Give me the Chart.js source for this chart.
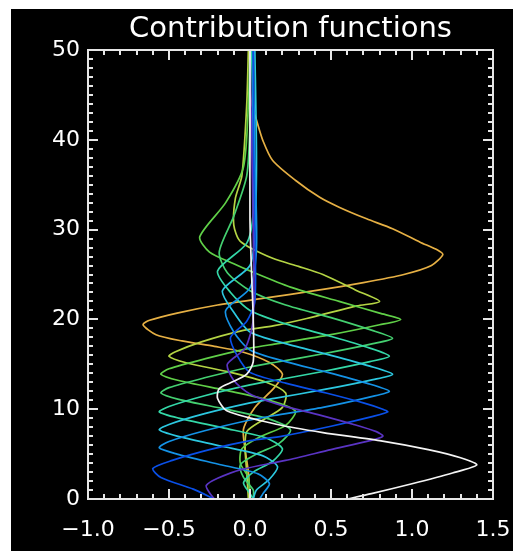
<!DOCTYPE html>
<html>
<head>
<meta charset="utf-8">
<script src="https://cdn.jsdelivr.net/npm/chart.js@4/dist/chart.umd.min.js"></script>
<style>
  html, body { margin: 0; padding: 0; background: #ffffff; }
  #wrap { position: absolute; left: 11px; top: 9px; width: 502px; height: 542px; background: #000000; }
  canvas { display: block; }
</style>
</head>
<body>
<div id="wrap"><canvas id="c" width="502" height="542"></canvas></div>
<script>
// ---- data (x = contribution, y = height) ----
const chartTitle = "Contribution functions";
const xTickLabels = ["−1.0", "−0.5", "0.0", "0.5", "1.0", "1.5"];
const yTickLabels = ["0", "10", "20", "30", "40", "50"];

const violet = [[0.00,50],[0.01,40],[0.02,30],[0.02,20],[-0.03,16.8],[-0.14,15.0],[-0.10,13.2],[0.00,11.7],[0.20,10.4],[0.42,9.4],[0.64,8.3],[0.78,7.5],[0.82,7.0],[0.74,6.5],[0.50,5.5],[0.22,4.3],[-0.05,3.3],[-0.20,2.3],[-0.27,1.5],[-0.25,0.7],[-0.22,0]];
const blue = [[0.02,50],[0.02,40],[0.03,30],[0.03,22],[-0.02,19.8],[-0.12,18.0],[-0.08,16.0],[0.00,14.1],[0.22,12.9],[0.47,11.8],[0.70,10.7],[0.82,10.0],[0.85,9.7],[0.76,9.2],[0.50,8.1],[0.20,7.0],[0.00,6.5],[-0.25,5.5],[-0.48,4.3],[-0.60,3.4],[-0.55,2.4],[-0.35,1.1],[-0.22,0]];
const azure = [[0.02,50],[0.03,38],[0.04,28],[0.00,23.5],[-0.15,21.0],[-0.10,18.6],[0.00,16.6],[0.22,15.3],[0.48,14.1],[0.72,12.9],[0.86,12.0],[0.75,11.4],[0.45,10.2],[0.15,9.3],[0.00,8.8],[-0.28,7.6],[-0.50,6.4],[-0.56,5.7],[-0.45,5.0],[-0.20,3.9],[0.05,2.8],[0.12,1.7],[0.08,0.6],[0.06,0]];
const cyan = [[0.03,50],[0.04,38],[0.03,30],[0.00,26.0],[-0.17,23.2],[-0.10,20.8],[0.00,18.6],[0.22,17.3],[0.50,16.0],[0.74,14.8],[0.88,13.9],[0.76,13.3],[0.46,12.2],[0.15,11.2],[0.00,10.7],[-0.28,9.5],[-0.50,8.3],[-0.56,7.7],[-0.45,7.0],[-0.18,5.9],[0.08,4.8],[0.17,3.6],[0.12,2.2],[0.04,1.0],[0.02,0]];
const teal = [[0.01,50],[0.02,40],[0.02,32],[-0.02,28.5],[-0.20,25.4],[-0.12,23.0],[0.00,21.0],[0.22,19.5],[0.50,18.1],[0.74,16.8],[0.86,15.9],[0.74,15.3],[0.45,14.2],[0.15,13.2],[0.00,12.7],[-0.28,11.5],[-0.50,10.3],[-0.56,9.7],[-0.44,9.0],[-0.16,7.9],[0.10,6.8],[0.20,5.6],[0.14,4.2],[0.02,3.0],[-0.04,1.8],[0.00,0.6],[0.02,0]];
const green = [[0.00,50],[0.00,42],[-0.02,36],[-0.10,31.5],[-0.19,27.5],[-0.14,25.2],[0.00,23.2],[0.22,21.6],[0.50,20.2],[0.75,18.8],[0.88,17.9],[0.76,17.3],[0.46,16.2],[0.15,15.2],[0.00,14.7],[-0.28,13.5],[-0.50,12.4],[-0.55,11.8],[-0.44,11.1],[-0.15,10.0],[0.12,8.9],[0.25,7.7],[0.18,6.2],[0.04,5.0],[-0.06,3.8],[-0.04,2.4],[0.02,1.0],[0.02,0]];
const green2 = [[0.00,50],[-0.01,44],[-0.04,37],[-0.15,33],[-0.31,29.2],[-0.25,27.5],[-0.10,26.2],[0.00,25.4],[0.25,23.6],[0.55,22.0],[0.80,20.7],[0.93,20.0],[0.80,19.4],[0.50,18.3],[0.17,17.3],[0.00,16.8],[-0.28,15.6],[-0.50,14.5],[-0.55,13.9],[-0.44,13.2],[-0.15,12.1],[0.12,11.0],[0.28,9.8],[0.22,8.2],[0.06,6.9],[-0.05,5.6],[-0.06,4.0],[-0.01,2.4],[0.00,0]];
const yellowGreen = [[-0.01,50],[-0.02,44],[-0.05,36],[-0.09,33.5],[-0.10,30.5],[-0.06,28.7],[0.14,26.8],[0.30,25.9],[0.45,25.0],[0.66,23.2],[0.80,22.0],[0.66,21.5],[0.35,20.1],[0.15,19.3],[-0.06,18.7],[-0.30,17.5],[-0.46,16.4],[-0.50,15.9],[-0.40,15.2],[-0.12,14.1],[0.10,13.0],[0.22,11.8],[0.20,10.2],[0.08,8.8],[-0.02,7.5],[-0.03,5.5],[-0.02,3.0],[-0.01,0]];
const orange = [[0.00,50],[0.00,46],[0.01,44],[0.04,42.2],[0.08,39.9],[0.14,37.7],[0.28,35.5],[0.43,33.6],[0.55,32.5],[0.72,31.2],[0.88,30.1],[1.05,28.6],[1.16,27.7],[1.19,27.2],[1.12,26.0],[0.95,25.0],[0.70,24.1],[0.40,23.2],[0.10,22.4],[-0.20,21.6],[-0.45,20.7],[-0.62,19.9],[-0.66,19.4],[-0.58,18.3],[-0.42,17.6],[-0.22,17.0],[-0.05,16.4],[0.12,15.2],[0.20,13.9],[0.15,12.4],[0.03,10.2],[-0.04,7.8],[-0.03,5.5],[-0.01,3.0],[0.00,0]];
const white = [[0.00,50],[0.00,40],[0.00,31],[0.01,25],[0.02,20],[0.02,15.3],[-0.02,13.9],[-0.10,13.1],[-0.19,12.3],[-0.20,11.2],[-0.14,9.8],[0.17,8.3],[0.45,7.4],[0.80,6.5],[1.10,5.5],[1.30,4.6],[1.40,3.8],[1.25,2.9],[1.00,1.7],[0.75,0.6],[0.60,0]];

const seriesList = [
  { name: "white", pts: white, color: "#f4f4f4" },
  { name: "violet", pts: violet, color: "#5a34c4" },
  { name: "blue", pts: blue, color: "#0a50e8" },
  { name: "azure", pts: azure, color: "#1492e6" },
  { name: "cyan", pts: cyan, color: "#2cc8e0" },
  { name: "teal", pts: teal, color: "#34d8a8" },
  { name: "green", pts: green, color: "#44d070" },
  { name: "green2", pts: green2, color: "#60d048" },
  { name: "yellowGreen", pts: yellowGreen, color: "#b4d444" },
  { name: "orange", pts: orange, color: "#e6b044" }
];

const idlFrame = {
  id: "idlFrame",
  afterDraw(chart) {
    const { ctx, chartArea: a, scales } = chart;
    const sx = scales.x, sy = scales.y;
    ctx.save();
    ctx.strokeStyle = "#e6e6e6";
    ctx.lineWidth = 2;
    ctx.strokeRect(a.left, a.top, a.right - a.left, a.bottom - a.top);
    ctx.beginPath();
    for (let i = 0; i <= 25; i++) {
      const v = -1 + i * 0.1;
      const len = (i % 5 === 0) ? 10 : 5;
      const px = Math.round(sx.getPixelForValue(v));
      ctx.moveTo(px, a.bottom); ctx.lineTo(px, a.bottom - len);
      ctx.moveTo(px, a.top); ctx.lineTo(px, a.top + len);
    }
    for (let i = 0; i <= 50; i++) {
      const len = (i % 10 === 0) ? 10 : 5;
      const py = Math.round(sy.getPixelForValue(i));
      ctx.moveTo(a.left, py); ctx.lineTo(a.left + len, py);
      ctx.moveTo(a.right, py); ctx.lineTo(a.right - len, py);
    }
    ctx.stroke();
    // title centred over the plot box
    ctx.fillStyle = "#ffffff";
    ctx.font = "29px 'DejaVu Sans'";
    ctx.textAlign = "center";
    ctx.textBaseline = "middle";
    ctx.fillText(chartTitle, (a.left + a.right) / 2, 20);
    ctx.restore();
  }
};

const labelFont = { family: "DejaVu Sans", size: 22 };

new Chart(document.getElementById("c"), {
  type: "scatter",
  data: {
    datasets: seriesList.map(s => ({
      label: s.name,
      data: s.pts.map(p => ({ x: p[0], y: p[1] })),
      showLine: true,
      borderColor: s.color,
      backgroundColor: s.color,
      borderWidth: 1.7,
      pointRadius: 0,
      tension: 0.25
    }))
  },
  options: {
    responsive: false,
    animation: false,
    devicePixelRatio: 1,
    layout: { padding: { left: 0, right: 20, top: 41, bottom: 0 } },
    plugins: {
      legend: { display: false },
      tooltip: { enabled: false },
      title: { display: false }
    },
    scales: {
      x: {
        type: "linear",
        min: -1, max: 1.5,
        grid: { display: false, drawTicks: false },
        border: { display: false },
        afterFit: s => { s.height = 52; s.paddingLeft = 0; s.paddingRight = 0; },
        ticks: {
          stepSize: 0.5,
          color: "#ffffff",
          font: labelFont,
          padding: 18,
          maxRotation: 0,
          callback: (v) => xTickLabels[Math.round((v + 1) / 0.5)]
        }
      },
      y: {
        type: "linear",
        min: 0, max: 50,
        grid: { display: false, drawTicks: false },
        border: { display: false },
        afterFit: s => { s.width = 77; s.paddingTop = 0; s.paddingBottom = 0; },
        ticks: {
          stepSize: 10,
          color: "#ffffff",
          font: labelFont,
          padding: 8,
          callback: (v) => yTickLabels[Math.round(v / 10)]
        }
      }
    }
  },
  plugins: [idlFrame]
});
</script>
</body>
</html>
